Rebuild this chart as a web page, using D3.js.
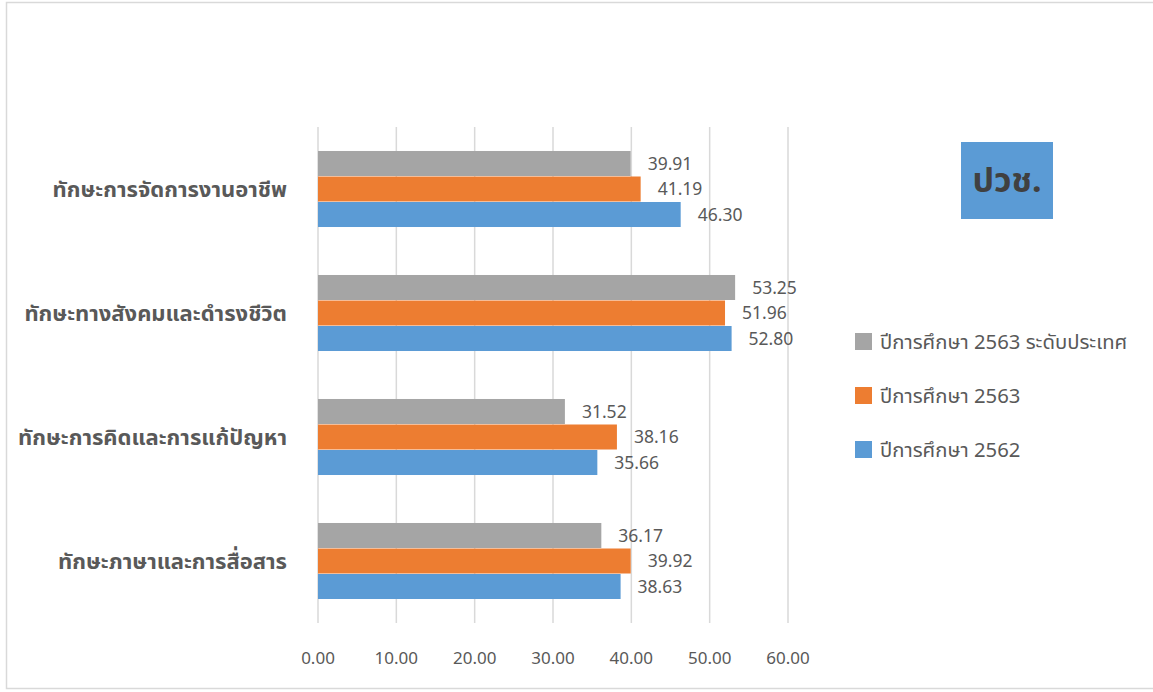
<!DOCTYPE html>
<html><head><meta charset="utf-8">
<script src="https://cdn.jsdelivr.net/npm/d3@7"></script>
<style>
html,body{margin:0;padding:0;background:#fff;}
svg{display:block;font-family:"Noto Sans","Noto Sans Thai","Tahoma",sans-serif;}
</style></head>
<body>
<svg id="c" width="1153" height="692"></svg>
<script>
const categories = ["ทักษะการจัดการงานอาชีพ","ทักษะทางสังคมและดำรงชีวิต","ทักษะการคิดและการแก้ปัญหา","ทักษะภาษาและการสื่อสาร"];
const seriesNames = ["ปีการศึกษา 2563 ระดับประเทศ","ปีการศึกษา 2563","ปีการศึกษา 2562"];
const seriesColors = ["#a5a5a5","#ed7d31","#5b9bd5"];
const national2563 = [39.91,53.25,31.52,36.17];
const year2563 = [41.19,51.96,38.16,39.92];
const year2562 = [46.30,52.80,35.66,38.63];
const xTicks = [0,10,20,30,40,50,60];
const titleText = "ปวช.";

const seriesValues = [national2563, year2563, year2562];
const svg = d3.select("#c");

// chart border
svg.append("rect").attr("x",6.5).attr("y",2.5).attr("width",1160).attr("height",686)
  .attr("fill","none").attr("stroke","#d9d9d9").attr("stroke-width",1.5);

const x = d3.scaleLinear().domain([0,60]).range([318,788]);
const y = d3.scaleBand().domain(categories).range([127,623]).paddingInner(0.387).paddingOuter(0.1935);
const ys = d3.scaleBand().domain(d3.range(3)).range([0,y.bandwidth()]).paddingInner(0.02);

// gridlines
svg.append("g").selectAll("line").data(xTicks).join("line")
  .attr("x1",d=>x(d)).attr("x2",d=>x(d)).attr("y1",127).attr("y2",623)
  .attr("stroke","#d9d9d9").attr("stroke-width",1.5);

// x axis labels
svg.append("g").selectAll("text").data(xTicks).join("text")
  .attr("x",d=>x(d)).attr("y",658).attr("dy","0.35em").attr("text-anchor","middle")
  .attr("font-size",17).attr("fill","#595959").text(d=>d.toFixed(2));

// bars
categories.forEach((cat,ci)=>{
  const g = svg.append("g");
  seriesValues.forEach((vals,si)=>{
    const by = y(cat)+ys(si);
    g.append("rect").attr("x",x(0)).attr("y",by).attr("width",x(vals[ci])-x(0))
      .attr("height",ys.bandwidth()).attr("fill",seriesColors[si]);
    g.append("text").attr("x",x(vals[ci])+17).attr("y",by+ys.bandwidth()/2)
      .attr("dy","0.35em").attr("font-size",17.5).attr("fill","#595959")
      .text(vals[ci].toFixed(2));
  });
  svg.append("text").attr("x",287).attr("y",y(cat)+y.bandwidth()/2).attr("dy","0.35em")
    .attr("text-anchor","end").attr("font-size",22).attr("font-weight","bold")
    .attr("fill","#595959").text(cat);
});

// legend
const legY = [333,387,441];
seriesNames.forEach((n,i)=>{
  svg.append("rect").attr("x",855).attr("y",legY[i]).attr("width",17).attr("height",17).attr("fill",seriesColors[i]);
  svg.append("text").attr("x",880).attr("y",legY[i]+8.5).attr("dy","0.35em")
    .attr("font-size",20.3).attr("fill","#595959").text(n);
});

// title box
svg.append("rect").attr("x",961).attr("y",142).attr("width",92).attr("height",77).attr("fill","#5b9bd5");
svg.append("text").attr("x",1007).attr("y",192).attr("text-anchor","middle")
  .attr("font-size",34).attr("font-weight","bold").attr("fill","#404040").text(titleText);
</script>
</body></html>
